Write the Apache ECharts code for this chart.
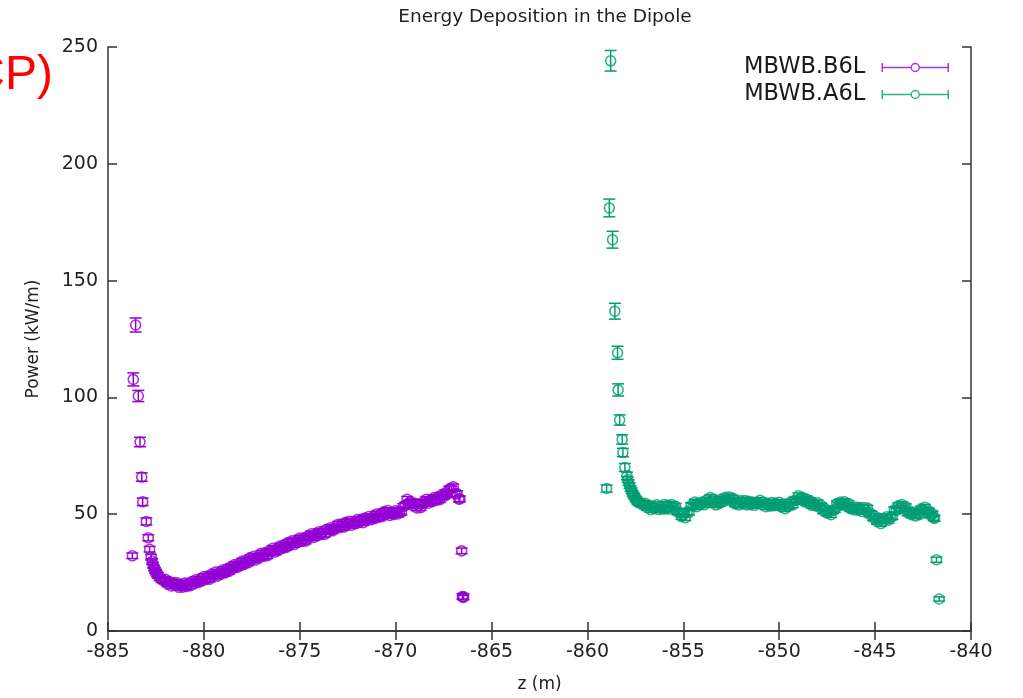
<!DOCTYPE html>
<html>
<head>
<meta charset="utf-8">
<script src="https://cdn.jsdelivr.net/npm/echarts@6/dist/echarts.min.js"></script>
<style>
html,body{margin:0;padding:0;background:#fff;}
#chart{width:1023px;height:698px;}
</style>
</head>
<body>
<div id="chart"></div>
<script>
// ---- data ----
const titleText = 'Energy Deposition in the Dipole';
const xName = 'z (m)';
const yName = 'Power (kW/m)';
const seriesNames = ['MBWB.B6L', 'MBWB.A6L'];
const xTicks = [-885, -880, -875, -870, -865, -860, -855, -850, -845, -840];
const yTicks = [0, 50, 100, 150, 200, 250];

// MBWB.B6L : [z (m), power (kW/m)]
const b6lPoints = [
  [-883.73,32.2],[-883.68,107.7],[-883.56,131.0],[-883.42,100.6],[-883.33,80.9],[-883.24,65.9],[-883.19,55.3],
  [-883.00,46.9],[-882.90,39.9],[-882.83,35.0],[-882.75,31.6],[-882.70,29.8],[-882.65,28.2],[-882.60,27.0],
  [-882.55,26.0],[-882.50,25.2],[-882.45,24.4],[-882.40,23.8],[-882.30,22.8],[-882.20,22.0],[-882.10,21.6],
  [-882.0,22.1],[-881.9,20.2],[-881.8,21.0],[-881.7,19.3],[-881.6,20.7],[-881.5,19.5],[-881.4,20.6],[-881.3,18.7],
  [-881.2,19.7],[-881.1,18.8],[-881.0,20.5],[-880.9,19.1],[-880.8,20.4],[-880.7,19.4],[-880.6,21.3],[-880.5,20.4],
  [-880.4,22.0],[-880.3,20.7],[-880.2,22.0],[-880.1,21.4],[-880.0,23.3],[-879.9,22.1],[-879.8,23.4],[-879.7,22.2],
  [-879.6,24.3],[-879.5,23.7],[-879.4,25.2],[-879.3,23.5],[-879.2,24.8],[-879.1,24.4],[-879.0,26.2],[-878.9,24.9],
  [-878.8,26.4],[-878.7,25.5],[-878.6,27.5],[-878.5,26.7],[-878.4,28.4],[-878.3,27.1],[-878.2,28.5],[-878.1,28.0],
  [-878.0,29.9],[-877.9,28.5],[-877.8,30.0],[-877.7,29.2],[-877.6,31.3],[-877.5,30.4],[-877.4,32.0],[-877.3,30.4],
  [-877.2,31.8],[-877.1,31.5],[-877.0,33.3],[-876.9,31.9],[-876.8,33.4],[-876.7,32.2],[-876.6,34.3],[-876.5,33.8],
  [-876.4,35.4],[-876.3,33.8],[-876.2,35.2],[-876.1,34.6],[-876.0,36.5],[-875.9,35.4],[-875.8,36.8],[-875.7,35.8],
  [-875.6,37.9],[-875.5,37.0],[-875.4,38.6],[-875.3,37.0],[-875.2,38.4],[-875.1,38.0],[-875.0,39.8],[-874.9,38.3],
  [-874.8,39.8],[-874.7,38.5],[-874.6,40.5],[-874.5,40.0],[-874.4,41.6],[-874.3,40.0],[-874.2,41.4],[-874.1,40.7],
  [-874.0,42.5],[-873.9,41.3],[-873.8,42.6],[-873.7,41.4],[-873.6,43.5],[-873.5,42.6],[-873.4,44.2],[-873.3,42.9],
  [-873.2,44.2],[-873.1,43.9],[-873.0,45.7],[-872.9,44.3],[-872.8,45.8],[-872.7,44.5],[-872.6,46.5],[-872.5,45.5],
  [-872.4,47.0],[-872.3,45.3],[-872.2,46.6],[-872.1,45.9],[-872.0,47.7],[-871.9,46.5],[-871.8,47.8],[-871.7,46.4],
  [-871.6,48.3],[-871.5,47.5],[-871.4,49.0],[-871.3,47.6],[-871.2,48.8],[-871.1,48.2],[-871.0,50.1],[-870.9,48.6],
  [-870.8,50.0],[-870.7,49.0],[-870.6,51.1],[-870.5,50.2],[-870.4,51.6],[-870.3,49.5],[-870.2,50.6],[-870.1,49.9],
  [-870.0,51.5],[-869.9,50.1],[-869.8,51.4],[-869.7,50.8],[-869.6,53.3],[-869.5,53.9],[-869.4,56.4],[-869.3,54.8],
  [-869.2,55.2],[-869.1,53.8],[-869.0,54.7],[-868.9,52.7],[-868.8,53.8],[-868.7,52.8],[-868.6,55.1],[-868.5,54.7],
  [-868.4,56.4],[-868.3,54.7],[-868.2,56.0],[-868.1,55.4],[-868.0,57.1],[-867.9,55.9],[-867.8,57.2],[-867.7,56.2],
  [-867.6,58.3],[-867.5,57.5],[-867.4,59.2],[-867.3,58.6],[-867.2,60.8],[-867.1,60.8],[-867.0,61.7],[-866.9,58.7],
  [-866.8,58.8],[-866.7,56.4],[-866.65,56.6],[-866.56,34.3],[-866.52,14.8],[-866.49,14.4],[-866.46,14.6]
];
// [z, half error] for points whose error bars stand out; the rest use bandErr
const b6lErr = [[-883.73,1.2],[-883.68,2.8],[-883.56,3.0],[-883.42,2.4],[-883.33,2.0],[-883.24,1.8],[-883.19,1.6],
  [-883.00,1.5],[-882.90,1.3],[-882.83,1.2],[-866.56,1.2],[-866.49,0.9]];

// MBWB.A6L : [z (m), power (kW/m)]
const a6lPoints = [
  [-859.00,61.0],[-858.86,181.1],[-858.79,244.1],[-858.69,167.5],[-858.57,136.9],[-858.43,119.1],[-858.40,103.2],
  [-858.32,90.3],[-858.19,82.0],[-858.15,76.4],[-858.05,70.0],[-857.94,66.4],[-857.90,64.8],[-857.85,63.5],
  [-857.80,62.2],[-857.75,61.0],[-857.70,60.0],[-857.65,59.0],[-857.60,58.2],[-857.55,57.6],[-857.50,56.8],
  [-857.45,56.2],[-857.40,55.6],[-857.35,55.2],[-857.30,54.9],[-857.2,54.4],[-857.1,54.2],
  [-857.0,54.7],[-856.9,52.9],[-856.8,53.6],[-856.7,52.0],[-856.6,53.5],[-856.5,52.5],[-856.4,54.0],[-856.3,52.0],
  [-856.2,52.8],[-856.1,52.2],[-856.0,54.1],[-855.9,52.3],[-855.8,53.8],[-855.7,52.2],[-855.6,54.1],[-855.5,52.7],
  [-855.4,53.4],[-855.3,51.0],[-855.2,50.8],[-855.1,49.0],[-855.0,49.9],[-854.9,48.5],[-854.8,51.0],[-854.7,50.8],
  [-854.6,53.7],[-854.5,53.5],[-854.4,55.2],[-854.3,53.2],[-854.2,54.8],[-854.1,54.2],[-854.0,55.1],[-853.9,54.1],
  [-853.8,56.0],[-853.7,55.2],[-853.6,57.1],[-853.5,55.5],[-853.4,56.4],[-853.3,54.0],[-853.2,55.0],[-853.1,54.6],
  [-853.0,56.5],[-852.9,55.7],[-852.8,57.2],[-852.7,56.0],[-852.6,57.3],[-852.5,55.9],[-852.4,56.8],[-852.3,54.4],
  [-852.2,55.2],[-852.1,54.0],[-852.0,55.7],[-851.9,54.5],[-851.8,55.8],[-851.7,54.0],[-851.6,55.5],[-851.5,54.1],
  [-851.4,55.2],[-851.3,53.8],[-851.2,55.0],[-851.1,54.6],[-851.0,55.9],[-850.9,54.1],[-850.8,55.0],[-850.7,53.2],
  [-850.6,54.7],[-850.5,53.5],[-850.4,55.0],[-850.3,53.6],[-850.2,54.8],[-850.1,53.8],[-850.0,55.1],[-849.9,53.1],
  [-849.8,54.0],[-849.7,52.4],[-849.6,54.1],[-849.5,53.5],[-849.4,55.2],[-849.3,54.0],[-849.2,56.0],[-849.1,56.0],
  [-849.0,57.9],[-848.9,56.5],[-848.8,57.2],[-848.7,55.4],[-848.6,56.5],[-848.5,54.9],[-848.4,55.8],[-848.3,53.8],
  [-848.2,54.6],[-848.1,53.6],[-848.0,54.9],[-847.9,52.9],[-847.8,53.6],[-847.7,51.4],[-847.6,52.3],[-847.5,50.5],
  [-847.4,51.2],[-847.3,49.8],[-847.2,51.6],[-847.1,52.0],[-847.0,54.5],[-846.9,53.7],[-846.8,55.2],[-846.7,54.0],
  [-846.6,55.3],[-846.5,53.7],[-846.4,54.6],[-846.3,52.4],[-846.2,53.0],[-846.1,51.8],[-846.0,53.1],[-845.9,51.7],
  [-845.8,52.8],[-845.7,51.2],[-845.6,52.9],[-845.5,51.7],[-845.4,52.6],[-845.3,50.0],[-845.2,50.2],[-845.1,48.4],
  [-845.0,49.1],[-844.9,46.9],[-844.8,47.6],[-844.7,46.0],[-844.6,48.1],[-844.5,47.3],[-844.4,48.9],[-844.3,47.4],
  [-844.2,48.8],[-844.1,49.0],[-844.0,51.9],[-843.9,51.5],[-843.8,53.6],[-843.7,52.4],[-843.6,54.1],[-843.5,52.5],
  [-843.4,53.2],[-843.3,50.6],[-843.2,51.0],[-843.1,49.8],[-843.0,50.9],[-842.9,49.3],[-842.8,50.6],[-842.7,49.8],
  [-842.6,52.3],[-842.5,51.7],[-842.4,53.0],[-842.3,51.0],[-842.2,51.4],[-842.1,49.6],[-842.0,50.1],[-841.95,48.6],
  [-841.9,48.2],[-841.8,30.5],[-841.66,13.7]
];
const a6lErr = [[-859.00,1.5],[-858.86,3.8],[-858.79,4.4],[-858.69,3.6],[-858.57,3.4],[-858.43,2.8],[-858.40,2.6],
  [-858.32,2.2],[-858.19,2.0],[-858.15,1.8],[-858.05,1.7],[-857.94,1.6],[-841.8,1.1],[-841.66,0.9]];
// typical half error of the points in the dense bands
const bandErr = 1.2;

const colors = ['#9400d3', '#009e73'];

// ---- build chart ----
const FONT = 'DejaVu Sans';
function errData(points, errs) {
  const m = new Map(errs);
  return points.map(([z, p]) => {
    const d = m.has(z) ? m.get(z) : bandErr;
    return [z, p - d, p + d];
  });
}
function errRenderer(color) {
  return function (params, api) {
    const z = api.value(0);
    const a = api.coord([z, api.value(2)]);
    const b = api.coord([z, api.value(1)]);
    const w = 6;
    const st = { stroke: color, lineWidth: 1.5 };
    return {
      type: 'group',
      children: [
        { type: 'line', shape: { x1: a[0], y1: a[1], x2: b[0], y2: b[1] }, style: st },
        { type: 'line', shape: { x1: a[0] - w, y1: a[1], x2: a[0] + w, y2: a[1] }, style: st },
        { type: 'line', shape: { x1: b[0] - w, y1: b[1], x2: b[0] + w, y2: b[1] }, style: st }
      ]
    };
  };
}

const axisLineStyle = { color: '#333', width: 1.5 };
const xMin = xTicks[0], xMax = xTicks[xTicks.length - 1];
const yMin = yTicks[0], yMax = yTicks[yTicks.length - 1];
const xInt = xTicks[1] - xTicks[0], yInt = yTicks[1] - yTicks[0];

const chart = echarts.init(document.getElementById('chart'), null, { renderer: 'canvas' });
chart.setOption({
  animation: false,
  backgroundColor: '#fff',
  title: {
    text: titleText,
    left: 540, textAlign: 'center', top: 3,
    textStyle: { fontFamily: FONT, fontSize: 18.5, fontWeight: 'normal', color: '#222' }
  },
  grid: { left: 108, right: 52, top: 47, bottom: 66, containLabel: false },
  legend: {
    data: seriesNames,
    orient: 'vertical', right: 74, top: 56, align: 'right',
    padding: 0, itemGap: 4, itemWidth: 66, itemHeight: 9,
    icon: 'path://M0,0L0,9M66,0L66,9M0,4.5L29,4.5M37,4.5L66,4.5M37,4.5A4,4,0,1,1,29,4.5A4,4,0,1,1,37,4.5',
    itemStyle: { color: 'rgba(0,0,0,0)', borderWidth: 1.5 },
    textStyle: { fontFamily: FONT, fontSize: 22.5, color: '#1a1a1a', padding: [0, 12, 0, 0] },
    selectedMode: false
  },
  graphic: [{
    type: 'text', x: 53, y: 76, silent: true,
    style: { text: 'CP)', fill: '#ff0000', font: '48px "Liberation Sans"', textAlign: 'right', textVerticalAlign: 'middle' }
  }],
  xAxis: [{
    type: 'value', min: xMin, max: xMax, interval: xInt, position: 'bottom',
    name: xName, nameLocation: 'middle', nameGap: 45,
    nameTextStyle: { fontFamily: FONT, fontSize: 17, color: '#222' },
    axisLine: { lineStyle: axisLineStyle },
    axisTick: { inside: true, length: 9, lineStyle: axisLineStyle },
    axisLabel: { fontFamily: FONT, fontSize: 19, color: '#222', margin: 12 },
    splitLine: { show: false }
  }, {
    type: 'value', min: xMin, max: xMax, interval: xInt, position: 'top',
    axisLine: { lineStyle: axisLineStyle },
    axisTick: { inside: true, length: 9, lineStyle: axisLineStyle },
    axisLabel: { show: false }, splitLine: { show: false }
  }],
  yAxis: [{
    type: 'value', min: yMin, max: yMax, interval: yInt, position: 'left',
    name: yName, nameLocation: 'middle', nameGap: 66, nameRotate: 90,
    nameTextStyle: { fontFamily: FONT, fontSize: 17, color: '#222' },
    axisLine: { show: true, lineStyle: axisLineStyle },
    axisTick: { show: true, inside: true, length: 9, lineStyle: axisLineStyle },
    axisLabel: { fontFamily: FONT, fontSize: 19, color: '#222', margin: 10 },
    splitLine: { show: false }
  }, {
    type: 'value', min: yMin, max: yMax, interval: yInt, position: 'right',
    axisLine: { show: true, lineStyle: axisLineStyle },
    axisTick: { show: true, inside: true, length: 9, lineStyle: axisLineStyle },
    axisLabel: { show: false }, splitLine: { show: false }
  }],
  series: [
    {
      name: seriesNames[0], type: 'scatter', data: b6lPoints,
      symbol: 'circle', symbolSize: 10, silent: true,
      itemStyle: { color: 'rgba(0,0,0,0)', borderColor: colors[0], borderWidth: 1.6 }
    },
    {
      name: seriesNames[1], type: 'scatter', data: a6lPoints,
      symbol: 'circle', symbolSize: 10, silent: true,
      itemStyle: { color: 'rgba(0,0,0,0)', borderColor: colors[1], borderWidth: 1.6 }
    },
    {
      name: seriesNames[0] + ' err', type: 'custom', data: errData(b6lPoints, b6lErr),
      encode: { x: 0, y: [1, 2] }, renderItem: errRenderer(colors[0]), silent: true
    },
    {
      name: seriesNames[1] + ' err', type: 'custom', data: errData(a6lPoints, a6lErr),
      encode: { x: 0, y: [1, 2] }, renderItem: errRenderer(colors[1]), silent: true
    }
  ]
});
</script>
</body>
</html>
